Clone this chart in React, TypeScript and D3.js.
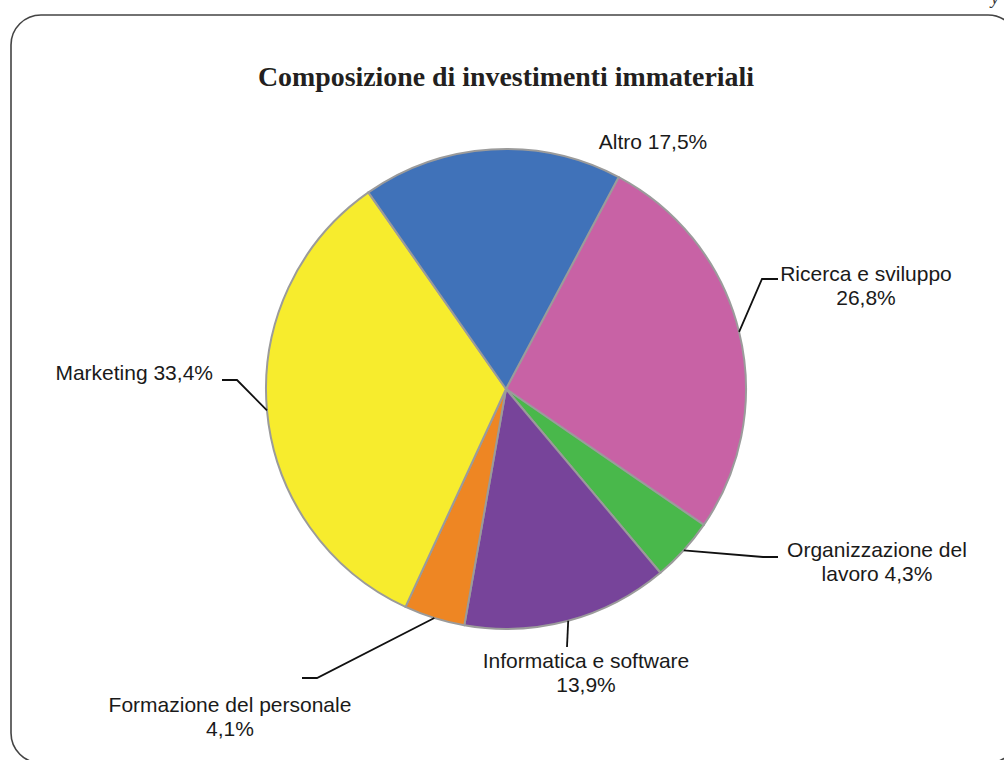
import React from "react";
import * as d3 from "d3";

const categories = [
  "Ricerca e sviluppo",
  "Organizzazione del lavoro",
  "Informatica e software",
  "Formazione del personale",
  "Marketing",
  "Altro",
];
const values = [26.8, 4.3, 13.9, 4.1, 33.4, 17.5];
const labelLines = [
  ["Ricerca e sviluppo", "26,8%"],
  ["Organizzazione del", "lavoro 4,3%"],
  ["Informatica e software", "13,9%"],
  ["Formazione del personale", "4,1%"],
  ["Marketing 33,4%"],
  ["Altro 17,5%"],
];
const colors = ["#C862A5", "#49B84B", "#77449A", "#EE8623", "#F7EC2D", "#4072B9"];

const title = "Composizione di investimenti immateriali";

// layout (positions only)
const W = 1004;
const H = 760;
const cx = 506;
const cy = 389;
const R = 240;
const startDeg = 28;

type Lay = {
  leader: boolean;
  elbow?: [number, number];
  end?: [number, number];
  tx: number;
  ty: number;
  anchor: "start" | "middle" | "end";
};
const layout: Lay[] = [
  { leader: true, elbow: [762, 279], end: [778, 279], tx: 866, ty: 281, anchor: "middle" },
  { leader: true, elbow: [763, 557], end: [778, 557], tx: 877, ty: 557, anchor: "middle" },
  { leader: true, elbow: [567, 647], end: [567, 647], tx: 586, ty: 668, anchor: "middle" },
  { leader: true, elbow: [317, 678], end: [302, 678], tx: 230, ty: 712, anchor: "middle" },
  { leader: true, elbow: [237, 380], end: [222, 380], tx: 213, ty: 380, anchor: "end" },
  { leader: false, tx: 653, ty: 149, anchor: "middle" },
];

export default function App() {
  const pie = d3
    .pie<number>()
    .sort(null)
    .value((d) => d)
    .startAngle((startDeg * Math.PI) / 180)
    .endAngle((startDeg * Math.PI) / 180 + 2 * Math.PI);
  const arcs = pie(values);
  const arc = d3.arc<d3.PieArcDatum<number>>().innerRadius(0).outerRadius(R);
  const edge = d3.arc<d3.PieArcDatum<number>>().innerRadius(R).outerRadius(R);

  return (
    <svg
      width={W}
      height={H}
      style={{ position: "absolute", left: 0, top: 0, background: "#fff" }}
    >
      <rect x={0} y={0} width={W} height={H} fill="#fff" />
      <text
        x={991}
        y={4}
        fontFamily="Liberation Serif, serif"
        fontStyle="italic"
        fontSize={18}
        fill="#333"
      >
        y
      </text>
      <rect
        x={11}
        y={15}
        width={1007}
        height={748}
        rx={30}
        ry={30}
        fill="none"
        stroke="#444"
        strokeWidth={1.6}
      />
      <text
        x={506}
        y={86}
        textAnchor="middle"
        fontFamily="Liberation Serif, Times New Roman, serif"
        fontWeight="bold"
        fontSize={28}
        fill="#231f20"
        textLength={496}
        lengthAdjust="spacingAndGlyphs"
      >
        {title}
      </text>
      <g transform={`translate(${cx},${cy})`}>
        {arcs.map((a, i) => (
          <path
            key={categories[i]}
            d={arc(a) || ""}
            fill={colors[i]}
            stroke="#9b9b9b"
            strokeWidth={2}
            strokeLinejoin="round"
          />
        ))}
      </g>
      {arcs.map((a, i) => {
        const L = layout[i];
        const [ex, ey] = edge.centroid(a);
        const p0: [number, number] = [cx + ex, cy + ey];
        return (
          <g key={"lab" + i}>
            {L.leader && L.elbow && L.end && (
              <polyline
                points={`${p0[0]},${p0[1]} ${L.elbow[0]},${L.elbow[1]} ${L.end[0]},${L.end[1]}`}
                fill="none"
                stroke="#111"
                strokeWidth={1.8}
              />
            )}
            <text
              x={L.tx}
              y={L.ty}
              textAnchor={L.anchor}
              fontFamily="Liberation Sans, Arial, sans-serif"
              fontSize={21}
              fill="#1a1a1a"
            >
              {labelLines[i].map((ln, j) => (
                <tspan key={j} x={L.tx} dy={j === 0 ? 0 : 24}>
                  {ln}
                </tspan>
              ))}
            </text>
          </g>
        );
      })}
    </svg>
  );
}
